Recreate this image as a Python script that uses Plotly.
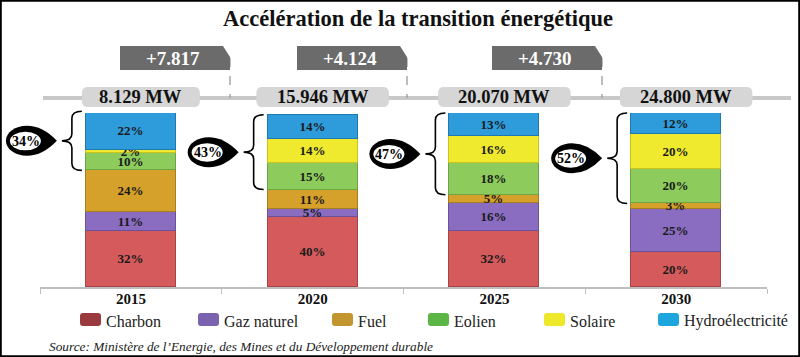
import plotly.graph_objects as go

# ---------------- data ----------------
years = ["2015", "2020", "2025", "2030"]
capacity_mw = [8129, 15946, 20070, 24800]
sources = ["Charbon", "Gaz naturel", "Fuel", "Eolien", "Solaire", "Hydroélectricité"]
charbon = [32, 40, 32, 20]
gaz_naturel = [11, 5, 16, 25]
fuel = [24, 11, 5, 3]
eolien = [10, 15, 18, 20]
solaire = [2, 14, 16, 20]
hydro = [22, 14, 13, 12]
title_text = "Accélération de la transition énergétique"
source_text = "Source: Ministère de l\u2019Energie, des Mines et du Développement durable"

series = [charbon, gaz_naturel, fuel, eolien, solaire, hydro]
renewable_idx = [3, 4, 5]

# ---------------- styles ----------------
W, H = 800, 357
SERIF = "Liberation Serif"
bar_colors = ["#D45A5C", "#8A6CC0", "#D6A12B", "#8DCB5C", "#EFEA2D", "#2E9BDB"]
edge_colors = ["#A94446", "#6B519C", "#A97E1E", "#6AA643", "#C9C41E", "#1F78B0"]
legend_colors = ["#9B3A3E", "#7B62AE", "#C3952F", "#5BB646", "#EDE82A", "#1DA5DE"]

X0, X1 = 40, 767          # plot area (pixels)
Y_BASE, Y_TOP = 287, 113  # y=0 and y=100 (pixels)
BAR_W = 0.495
px_per_x = (X1 - X0) / 4.0
px_per_y = (Y_BASE - Y_TOP) / 100.0


def P(x, y):
    return x / W, 1 - y / H


def path(cmds):
    out = []
    for c in cmds:
        if isinstance(c, str):
            out.append(c)
        else:
            px, py = P(*c)
            out.append(f"{px:.5f},{py:.5f}")
    return " ".join(out)


def bar_cx(i):
    return X0 + (i + 0.5) * px_per_x


def val_y(v):
    return Y_BASE - v * px_per_y


def fmt_thousands(n):
    return f"{n:,}".replace(",", ".")


def text_at(x, y, text, font, xanchor="center"):
    ax, ay = P(x, y)
    return dict(x=ax, y=ay, xref="paper", yref="paper", showarrow=False, text=text,
                xanchor=xanchor, yanchor="middle", font=font)


def rounded_rect(x0, y0, x1, y1, r):
    return path(["M", (x0 + r, y0), "L", (x1 - r, y0), "Q", (x1, y0), (x1, y0 + r),
                 "L", (x1, y1 - r), "Q", (x1, y1), (x1 - r, y1),
                 "L", (x0 + r, y1), "Q", (x0, y1), (x0, y1 - r),
                 "L", (x0, y0 + r), "Q", (x0, y0), (x0 + r, y0), "Z"])


fig = go.Figure()
for k, name in enumerate(sources):
    fig.add_trace(go.Bar(
        x=list(range(len(years))), y=series[k], name=name,
        width=BAR_W,
        marker=dict(color=bar_colors[k], line=dict(color=edge_colors[k], width=1)),
        text=[f"{v}%" for v in series[k]],
        textposition="inside", insidetextanchor="middle", textangle=0,
        textfont=dict(family=SERIF, size=13, color="#1a1a1a", weight="bold"),
        showlegend=False, hoverinfo="skip",
    ))

shapes = []
annotations = []

# outer frame
shapes.append(dict(type="rect", xref="paper", yref="paper", x0=0.001, x1=0.999, y0=0.002, y1=0.998,
                   line=dict(color="black", width=2), fillcolor="rgba(0,0,0,0)", layer="above"))

# timeline line
shapes.append(dict(type="line", xref="paper", yref="paper",
                   x0=P(43, 98)[0], x1=P(791, 98)[0], y0=P(43, 98)[1], y1=P(43, 98)[1],
                   line=dict(color="#C8C8C8", width=4), layer="below"))

# increment arrows
tips = [230, 407, 602]
for j in range(len(years) - 1):
    inc = capacity_mw[j + 1] - capacity_mw[j]
    t = tips[j]
    shapes.append(dict(type="line", xref="paper", yref="paper",
                       x0=P(t, 58)[0], x1=P(t, 98)[0], y0=P(t, 58)[1], y1=P(t, 98)[1],
                       line=dict(color="#9A9A9A", width=1.3, dash="dash")))
    shapes.append(dict(type="path", xref="paper", yref="paper",
                       path=path(["M", (t - 110, 46), "L", (t - 7, 46), "L", (t, 57), "L", (t, 70),
                                  "L", (t - 110, 70), "Z"]),
                       fillcolor="#6B6B6B", line=dict(width=0)))
    annotations.append(text_at(t - 57, 58.5, f"+{fmt_thousands(inc)}",
                               dict(family=SERIF, size=19, color="white", weight="bold")))

# capacity labels
for i, mw in enumerate(capacity_mw):
    label = f"{fmt_thousands(mw)} MW"
    cx = bar_cx(i) + 10
    w = 14.5 * len(label) + 2
    shapes.append(dict(type="path", xref="paper", yref="paper",
                       path=rounded_rect(cx - w / 2, 87, cx + w / 2, 107, 6),
                       fillcolor="#D6D6D6", line=dict(width=0)))
    annotations.append(text_at(cx, 97.5, label, dict(family=SERIF, size=18.5, color="#111", weight="bold")))

# braces + bubbles with renewable share
for i in range(len(years)):
    total = sum(s[i] for s in series)
    ren = sum(series[k][i] for k in renewable_idx)
    y_top = val_y(total)
    y_bot = val_y(total - ren)
    ym = (y_top + y_bot) / 2
    left = bar_cx(i) - BAR_W * px_per_x / 2
    xr = left - 4
    xt = left - 24
    xm = (xr + xt) / 2
    rr = 7
    shapes.append(dict(type="path", xref="paper", yref="paper",
                       path=path(["M", (xr, y_top), "Q", (xm, y_top), (xm, y_top + rr),
                                  "L", (xm, ym - rr), "Q", (xm, ym), (xt, ym),
                                  "Q", (xm, ym), (xm, ym + rr),
                                  "L", (xm, y_bot - rr), "Q", (xm, y_bot), (xr, y_bot)]),
                       line=dict(color="black", width=1.6)))
    # teardrop bubble
    tip = xt - 5
    cx, cy = tip - 30, ym
    rx, ry = 21, 15
    k_ = 0.5523
    shapes.append(dict(type="path", xref="paper", yref="paper",
                       path=path(["M", (tip, cy),
                                  "Q", (cx + rx * 0.75, cy - ry), (cx, cy - ry),
                                  "C", (cx - rx * k_, cy - ry), (cx - rx, cy - ry * k_), (cx - rx, cy),
                                  "C", (cx - rx, cy + ry * k_), (cx - rx * k_, cy + ry), (cx, cy + ry),
                                  "Q", (cx + rx * 0.75, cy + ry), (tip, cy), "Z"]),
                       fillcolor="black", line=dict(width=0)))
    ex0, ey0 = P(cx - 17, cy - 9)
    ex1, ey1 = P(cx + 14, cy + 9.5)
    shapes.append(dict(type="circle", xref="paper", yref="paper", x0=ex0, x1=ex1, y0=ey0, y1=ey1,
                       fillcolor="white", line=dict(width=0)))
    annotations.append(text_at(cx - 1, cy + 0.5, f"{ren}%",
                               dict(family=SERIF, size=14, color="black", weight="bold")))

# legend (manual)
legend_x = [80, 198, 332, 428, 544, 658]
for k, name in enumerate(sources):
    x0 = legend_x[k]
    shapes.append(dict(type="path", xref="paper", yref="paper",
                       path=rounded_rect(x0, 313, x0 + 21, 326, 3),
                       fillcolor=legend_colors[k], line=dict(width=0)))
    annotations.append(text_at(x0 + 24, 321, name, dict(family=SERIF, size=16, color="#222"), xanchor="left"))

# source
annotations.append(text_at(47, 346, f"<i>{source_text}</i>", dict(family=SERIF, size=13.3, color="#222"),
                           xanchor="left"))

fig.update_layout(
    width=W, height=H, margin=dict(l=0, r=0, t=0, b=0),
    paper_bgcolor="white", plot_bgcolor="white",
    barmode="stack", bargap=0,
    uniformtext=dict(minsize=13, mode="show"),
    title=dict(text=title_text, x=418 / W, xanchor="center", y=1 - 18 / H, yanchor="middle",
               font=dict(family=SERIF, size=22.5, color="#111", weight="bold")),
    xaxis=dict(domain=[X0 / W, X1 / W], range=[-0.5, 3.5], tickmode="array",
               tickvals=list(range(len(years))), ticktext=years, ticks="",
               showline=True, linecolor="#BFBFBF", linewidth=1.5, showgrid=False, zeroline=False,
               tickfont=dict(family=SERIF, size=15, color="#111", weight="bold"),
               ticklabelstandoff=-3,
               minor=dict(tickmode="array", tickvals=[-0.5, 0.5, 1.5, 2.5, 3.5], ticks="outside",
                          ticklen=5, tickcolor="#BFBFBF", tickwidth=1, showgrid=False),
               fixedrange=True),
    yaxis=dict(domain=[(H - Y_BASE) / H, (H - Y_TOP) / H], range=[0, 100], visible=False, fixedrange=True),
    shapes=shapes, annotations=annotations,
    showlegend=False,
)

fig.write_html("out.html", config={"displayModeBar": False},
               post_script="document.body.style.margin='0';document.body.style.overflow='hidden';")
